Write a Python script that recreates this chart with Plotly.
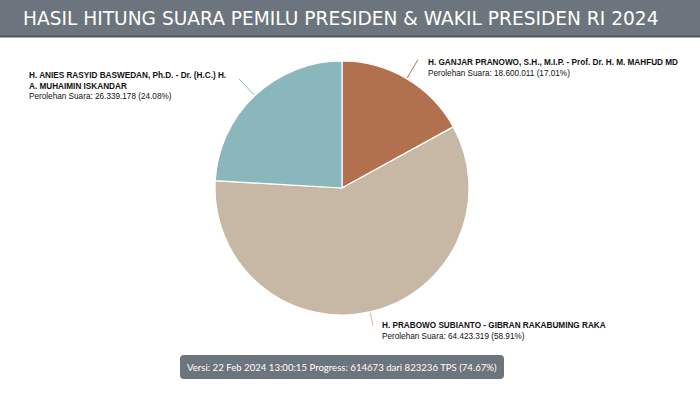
import math
import plotly.graph_objects as go

# ---- data ----
candidates = [
    "H. GANJAR PRANOWO, S.H., M.I.P. - Prof. Dr. H. M. MAHFUD MD",
    "H. PRABOWO SUBIANTO - GIBRAN RAKABUMING RAKA",
    "H. ANIES RASYID BASWEDAN, Ph.D. - Dr. (H.C.) H.<br>A. MUHAIMIN ISKANDAR",
]
votes = [18600011, 64423319, 26339178]
vote_labels = ["18.600.011", "64.423.319", "26.339.178"]
pct_labels = ["17.01%", "58.91%", "24.08%"]
colors = ["#b1714f", "#c7b8a5", "#8ab7bc"]

title_text = "HASIL HITUNG SUARA PEMILU PRESIDEN & WAKIL PRESIDEN RI 2024"
footer_text = "Versi: 22 Feb 2024 13:00:15 Progress: 614673 dari 823236 TPS (74.67%)"

W, H = 700, 394
CX, CY, R = 342, 188, 127  # pie centre / radius in pixels


def px(x):
    return x / W


def py(y):
    return 1 - y / H


def rounded_rect(x0, y0, x1, y1, r):
    # pixel coords -> paper path with rounded corners
    pts = [
        f"M {px(x0 + r)} {py(y0)}",
        f"L {px(x1 - r)} {py(y0)}",
        f"Q {px(x1)} {py(y0)} {px(x1)} {py(y0 + r)}",
        f"L {px(x1)} {py(y1 - r)}",
        f"Q {px(x1)} {py(y1)} {px(x1 - r)} {py(y1)}",
        f"L {px(x0 + r)} {py(y1)}",
        f"Q {px(x0)} {py(y1)} {px(x0)} {py(y1 - r)}",
        f"L {px(x0)} {py(y0 + r)}",
        f"Q {px(x0)} {py(y0)} {px(x0 + r)} {py(y0)}",
        "Z",
    ]
    return " ".join(pts)


fig = go.Figure()
fig.add_trace(go.Pie(
    labels=[c.replace("<br>", " ") for c in candidates],
    values=votes,
    sort=False,
    direction="clockwise",
    rotation=0,
    marker=dict(colors=colors, line=dict(color="#ffffff", width=1.2)),
    textinfo="none",
    hoverinfo="label+value+percent",
    showlegend=False,
    domain=dict(x=[px(CX - R), px(CX + R)], y=[py(CY + R), py(CY - R)]),
))

shapes = [
    # header bar
    dict(type="rect", xref="paper", yref="paper", x0=0, x1=1, y0=py(36), y1=1,
         fillcolor="#6c757d", line=dict(width=0), layer="below"),
    dict(type="rect", xref="paper", yref="paper", x0=0, x1=1, y0=py(37.5), y1=py(35.5),
         fillcolor="#4f565c", line=dict(width=0), layer="below"),
    # footer badge
    dict(type="path", xref="paper", yref="paper", path=rounded_rect(180, 355, 504, 379, 4),
         fillcolor="#6c757d", line=dict(width=0), layer="below"),
]

# leader lines computed from slice mid-angles
total = sum(votes)
cum = 0
mids = []
for v in votes:
    mids.append((cum + v / 2) / total * 2 * math.pi)
    cum += v
lead_len = [22, 14, 23]
for m, L, lc in zip(mids, lead_len, colors):
    sx, sy = CX + (R + 1) * math.sin(m), CY - (R + 1) * math.cos(m)
    ex, ey = CX + (R + L) * math.sin(m), CY - (R + L) * math.cos(m)
    shapes.append(dict(type="line", xref="paper", yref="paper",
                       x0=px(sx), y0=py(sy), x1=px(ex), y1=py(ey),
                       line=dict(color=lc, width=1)))

label_pos = [(426, 56), (380, 319), (27, 69)]
annotations = [
    dict(text=title_text, xref="paper", yref="paper", x=px(21), y=py(18),
         xanchor="left", yanchor="middle", showarrow=False,
         font=dict(family="DejaVu Sans", size=18.6, color="#ffffff")),
    dict(text=footer_text, xref="paper", yref="paper", x=px(342), y=py(367),
         xanchor="center", yanchor="middle", showarrow=False,
         font=dict(family="Lato", size=9.6, color="#ffffff")),
]
for name, vl, pl, (lx, ly) in zip(candidates, vote_labels, pct_labels, label_pos):
    txt = f"<b>{name}</b><br>Perolehan Suara: {vl} ({pl})"
    annotations.append(dict(text=txt, xref="paper", yref="paper", x=px(lx), y=py(ly),
                            xanchor="left", yanchor="top", align="left", showarrow=False,
                            font=dict(family="Liberation Sans", size=8.2, color="#111111")))

fig.update_layout(
    width=W, height=H,
    margin=dict(l=0, r=0, t=0, b=0),
    paper_bgcolor="#ffffff",
    plot_bgcolor="#ffffff",
    shapes=shapes,
    annotations=annotations,
)

fig.write_html("out.html",
               config={"displayModeBar": False},
               post_script="document.body.style.margin='0';document.body.style.overflow='hidden';")
